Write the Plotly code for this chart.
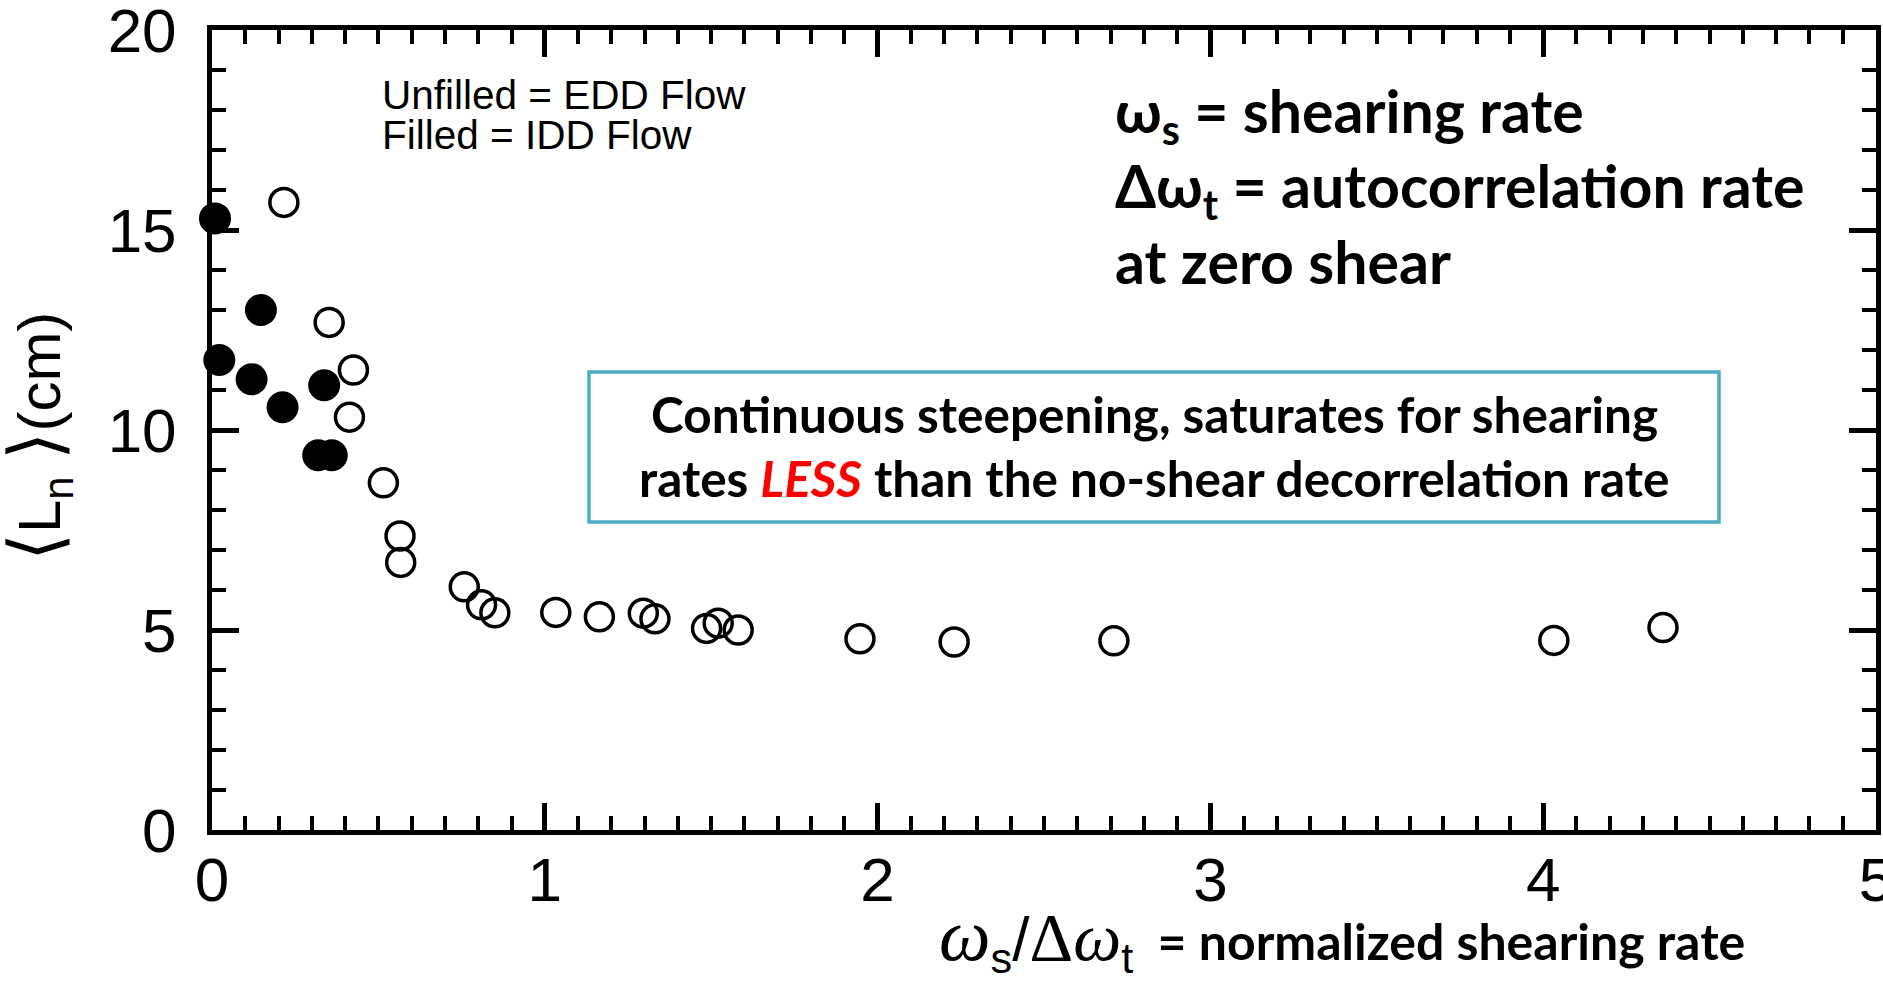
import plotly.graph_objects as go

# ---- data ----
idd_x = [0.009, 0.022, 0.147, 0.119, 0.212, 0.337, 0.319, 0.360]
idd_y = [15.29, 11.75, 13.00, 11.27, 10.57, 11.12, 9.37, 9.37]

edd_x = [0.216, 0.352, 0.425, 0.413, 0.515, 0.565, 0.567, 0.758, 0.810, 0.850,
         1.033, 1.164, 1.296, 1.331, 1.486, 1.521, 1.581, 1.947, 2.230, 2.710,
         4.032, 4.360]
edd_y = [15.69, 12.69, 11.50, 10.32, 8.68, 7.35, 6.69, 6.08, 5.63, 5.43,
         5.44, 5.33, 5.42, 5.28, 5.04, 5.17, 5.00, 4.78, 4.70, 4.73,
         4.74, 5.06]

x_ticks = [0, 1, 2, 3, 4, 5]
y_ticks = [0, 5, 10, 15, 20]

W, H = 1883, 987
L, R, T, B = 212, 7, 30, 157

SANS = "Liberation Sans, Arial, Helvetica, sans-serif"
BOLD = "Lato, sans-serif"

fig = go.Figure()
fig.add_trace(go.Scatter(
    x=edd_x, y=edd_y, mode="markers", name="EDD Flow",
    marker=dict(symbol="circle-open", size=28, color="black",
                line=dict(width=3.5, color="black")),
    cliponaxis=False, showlegend=False))
fig.add_trace(go.Scatter(
    x=idd_x, y=idd_y, mode="markers", name="IDD Flow",
    marker=dict(symbol="circle", size=29, color="black",
                line=dict(width=3, color="black")),
    cliponaxis=False, showlegend=False))

axis_common = dict(
    showline=True, linewidth=5, linecolor="black", mirror="ticks",
    ticks="inside", tickwidth=5, tickcolor="black",
    showgrid=False, zeroline=False, ticklabeloverflow="allow",
    automargin=False,
    tickfont=dict(family=SANS, size=62, color="black"),
)

fig.update_xaxes(range=[0, 5], tickvals=x_ticks, ticklen=27,
                 minor=dict(ticks="inside", ticklen=14, tickwidth=4,
                            tickcolor="black", dtick=0.1, tick0=0),
                 ticklabelstandoff=-8, **axis_common)
fig.update_yaxes(range=[0, 20], tickvals=y_ticks, ticklen=27,
                 minor=dict(ticks="inside", ticklen=14, tickwidth=4,
                            tickcolor="black", dtick=1, tick0=0),
                 ticklabelstandoff=18, **axis_common)

def px(xp):
    return (xp - L) / (W - L - R)

def py(yp):
    return (H - B - yp) / (H - T - B)

ann = []
# legend-like note
nfont = dict(family=SANS, size=40.5, color="black")
ann.append(dict(text="Unfilled = EDD Flow", x=px(380), y=py(95), xanchor="left",
                yanchor="middle", font=nfont))
ann.append(dict(text="Filled = IDD Flow", x=px(380), y=py(135), xanchor="left",
                yanchor="middle", font=nfont))
# definitions
dfont = dict(family=BOLD, size=59, color="black")
ann.append(dict(text="<b>ω<sub>s</sub> = shearing rate</b>", x=px(1113), y=py(115),
                xanchor="left", yanchor="middle", font=dfont))
ann.append(dict(text="<b>Δω<sub>t</sub> = autocorrelation rate</b>", x=px(1113), y=py(190),
                xanchor="left", yanchor="middle", font=dfont))
ann.append(dict(text="<b>at zero shear</b>", x=px(1113), y=py(261),
                xanchor="left", yanchor="middle", font=dfont))
# boxed statement
bfont = dict(family=BOLD, size=49.5, color="black")
ann.append(dict(text="<b>Continuous steepening, saturates for shearing</b>",
                x=px(1154), y=py(414), xanchor="center", yanchor="middle", font=bfont))
ann.append(dict(text="<b>rates <i><span style='color:#FF0000'>LESS</span></i> than the no-shear decorrelation rate</b>",
                x=px(1154), y=py(478), xanchor="center", yanchor="middle", font=bfont))
# x-axis title
xt = ("<span style=\"font-family:'Liberation Serif';font-style:italic;font-weight:normal;font-size:73px\">ω</span>"
      "<span style=\"font-family:'Liberation Sans';font-weight:normal;font-size:62px\"><sub>s</sub>/</span>"
      "<span style=\"font-family:'Liberation Serif';font-weight:normal;font-size:68px\">Δ<i>ω</i></span>"
      "<span style=\"font-family:'Liberation Sans';font-weight:normal;font-size:62px\"><sub>t</sub></span>"
      "<b>  = normalized shearing rate</b>")
ann.append(dict(text=xt, x=px(937), y=py(938), xanchor="left", yanchor="middle",
                font=dict(family=BOLD, size=50, color="black")))
# y-axis title
yt = ("<span style='font-size:72px'>⟨</span>L<sub>n</sub> "
      "<span style='font-size:72px'>⟩</span>(cm)")
ann.append(dict(text=yt, x=px(38), y=py(437), xanchor="center",
                yanchor="middle", textangle=-90,
                font=dict(family=SANS, size=60, color="black")))

for a in ann:
    a.update(xref="paper", yref="paper", showarrow=False)

fig.update_layout(
    width=W, height=H,
    margin=dict(l=L, r=R, t=T, b=B, pad=0, autoexpand=False),
    paper_bgcolor="white", plot_bgcolor="white",
    annotations=ann,
    shapes=[dict(type="rect", xref="paper", yref="paper",
                 x0=px(589), x1=px(1719), y0=py(522), y1=py(372),
                 line=dict(color="#4BACC6", width=3.5), fillcolor="rgba(0,0,0,0)")],
)

fig.write_html("out.html", config={"displayModeBar": False})
